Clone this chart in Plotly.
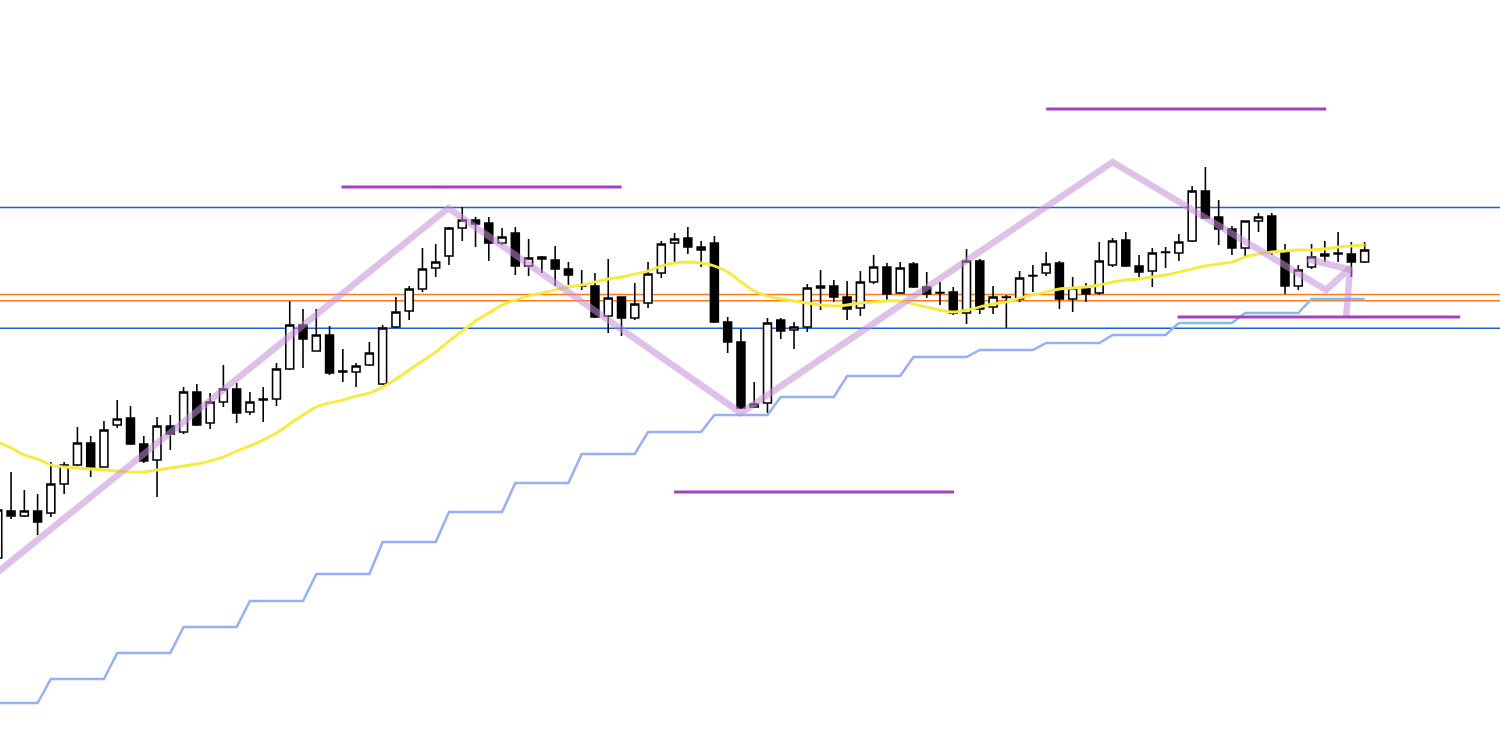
import plotly.graph_objects as go

# ---- data (price units) ----
opens = [188,235,230,235,233,262,281,303,279,321,328,302,286,320,314,354,323,344,357,334,
         346,347,377,421,395,411,375,374,381,362,419,435,457,478,490,518,526,523,503,513,
         480,489,486,477,460.5,460,430,449,428,443,473,503,508,499,503,424,404,339,343,426,
         416,419,460,460,449,438,464,479,453,482,459,453.5,454,433,485,439,449,447,470.5,473,
         483,447,458,453,481,506,480,475,494,493,505,555,529,517,498,525,530,494,460,479,
         492,493,492,484]
highs = [241,274,256,252,284,284,319,310,325,346,340,310,329,331,359,362,353,381,363,354,
         359,383,445,437,437,420,397,383,404,421,449,460,498,502,519,539,529,529,518,519,
         507,490,500,484,476,473,487,449,463,484,505,513,519,505,510,429,417,364,428,428,
         424,462,476,466,465,475,491,483,484,484,474,464,459,497,487,460,451,475,481,494,
         485,469,463,504,508,514,491,498,499,512,560,579,546,520,525,533,533,502,481,502,
         505,514,504,504]
lows = [186,227,229,211,229,252,280,269,279,318,301,283,249,296,312,320,317,339,323,331,
        324,340,376,378,395,371,364,359,380,361,418,426,454,469,481,505,499,485,501,471,
        470,473,460,461,456,428,413,410,426,438,468,483,492,479,423,393,337,338,333,407,
        397,414,436,444,426,430,462,445,452,458,448,441,431,422,432,432,418,444,454,470,
        437,434,444,451,479,479,469,459,478,485,504,528,501,491,489,514,491,452,456,477,
        484,484,469,483]
closes = [236,230,235,224,262,281,303,279,316,327,302,285,320,312,354,321,344,357,333,344,
          347,377,421,407,411,373,374,380,393,418,434,457,477,484,518,526,522,503,509,480,
          488,487,477,471,460,429,448,428,442,472,502,507,499,496,424,404,338,342,423,415,
          419,458,458,449,437,464,479,452,478,459,452,453,433,485,437,449,448.5,468,470,482,
          447,458,452,485,505,480,474,493,493.5,504,555,528,517,498,525,529,494,460,476,489,
          490,492,484,496]

ma_fast = [304,298,291,287,281,279,278,277,276,275,274,274,276,278,280,282,285,289,295,300,
           306,313,322,331,339,343,346,350,353,359,367,376,385,394,405,415,425,433,441,446,
           450,453,456,459,461,464,467,469,472,475,480,483,484,483,480,474,464,455,450,447,
           445,443,441,440,441,443,444,445,445,442,439,436,434,436,439,442,444,448,451,454,
           457,458,459,461,464,466,467,469,471,474,477,480,482,484,489,492,494,495,496,496,
           497,499,500,501]

step_levels = [43,67,93,119,145,172,204,234,263,292,314,331,349,370,389,396,403,411,423,433,447]
step_lengths = [4] + [5] * 20

zigzag_x = [0, 33.95, 56, 84, 100.1, 101.9, 101.6]
zigzag_y = [174, 538, 333, 584, 456, 478, 428]
arrow_x = [98.7, 102.0]
arrow_y = [487, 476]

blue_levels = [538.5, 417.7]
orange_levels = [451.4, 445.2]
purple_segments = [(79.0, 100.1, 637), (25.9, 47.0, 559), (50.96, 72.06, 254), (88.9, 110.2, 429)]

# ---- build ----
n = len(opens)
xs = list(range(n))
step_vals = []
for lev, ln in zip(step_levels, step_lengths):
    step_vals += [lev] * ln

fig = go.Figure()

# step MA (two tones)
split = 89
fig.add_trace(go.Scatter(x=xs[:split + 1], y=step_vals[:split + 1], mode="lines",
                         line=dict(color="#95b0f4", width=2.5), hoverinfo="skip"))
fig.add_trace(go.Scatter(x=xs[split:], y=step_vals[split:], mode="lines",
                         line=dict(color="#86bbe9", width=2.5), hoverinfo="skip"))

# yellow MA
fig.add_trace(go.Scatter(x=xs, y=ma_fast, mode="lines",
                         line=dict(color="#f7ea3c", width=2.8, shape="spline"), hoverinfo="skip"))

# candles
fig.add_trace(go.Candlestick(
    x=xs, open=opens, high=highs, low=lows, close=closes,
    increasing=dict(fillcolor="#ffffff", line=dict(color="#000000", width=1.6)),
    decreasing=dict(fillcolor="#000000", line=dict(color="#000000", width=1.6)),
    whiskerwidth=0, hoverinfo="skip"))

# zigzag
fig.add_trace(go.Scatter(x=zigzag_x, y=zigzag_y, mode="lines",
                         line=dict(color="rgba(196,140,214,0.55)", width=6.5), hoverinfo="skip"))
fig.add_trace(go.Scatter(x=arrow_x, y=arrow_y, mode="lines",
                         line=dict(color="rgba(196,140,214,0.55)", width=6.5), hoverinfo="skip"))

shapes = []
for lv in blue_levels:
    shapes.append(dict(type="line", xref="paper", x0=0, x1=1, yref="y", y0=lv, y1=lv,
                       line=dict(color="#1f5fd8", width=1.5), layer="below"))
for lv in orange_levels:
    shapes.append(dict(type="line", xref="paper", x0=0, x1=1, yref="y", y0=lv, y1=lv,
                       line=dict(color="#ff7b1c", width=1.5), layer="below"))
for x0, x1, lv in purple_segments:
    shapes.append(dict(type="line", xref="x", x0=x0, x1=x1, yref="y", y0=lv, y1=lv,
                       line=dict(color="#a640c2", width=3)))

fig.update_layout(
    width=1500, height=746,
    margin=dict(l=0, r=0, t=0, b=0),
    paper_bgcolor="white", plot_bgcolor="white",
    showlegend=False,
    shapes=shapes,
    boxgap=0.15,
    xaxis=dict(range=[0.166, 113.2], visible=False, rangeslider=dict(visible=False),
               showgrid=False, zeroline=False),
    yaxis=dict(range=[0, 746], visible=False, showgrid=False, zeroline=False),
)

fig.write_html("out.html", config={"displayModeBar": False},
               post_script="document.body.style.margin='0';")
